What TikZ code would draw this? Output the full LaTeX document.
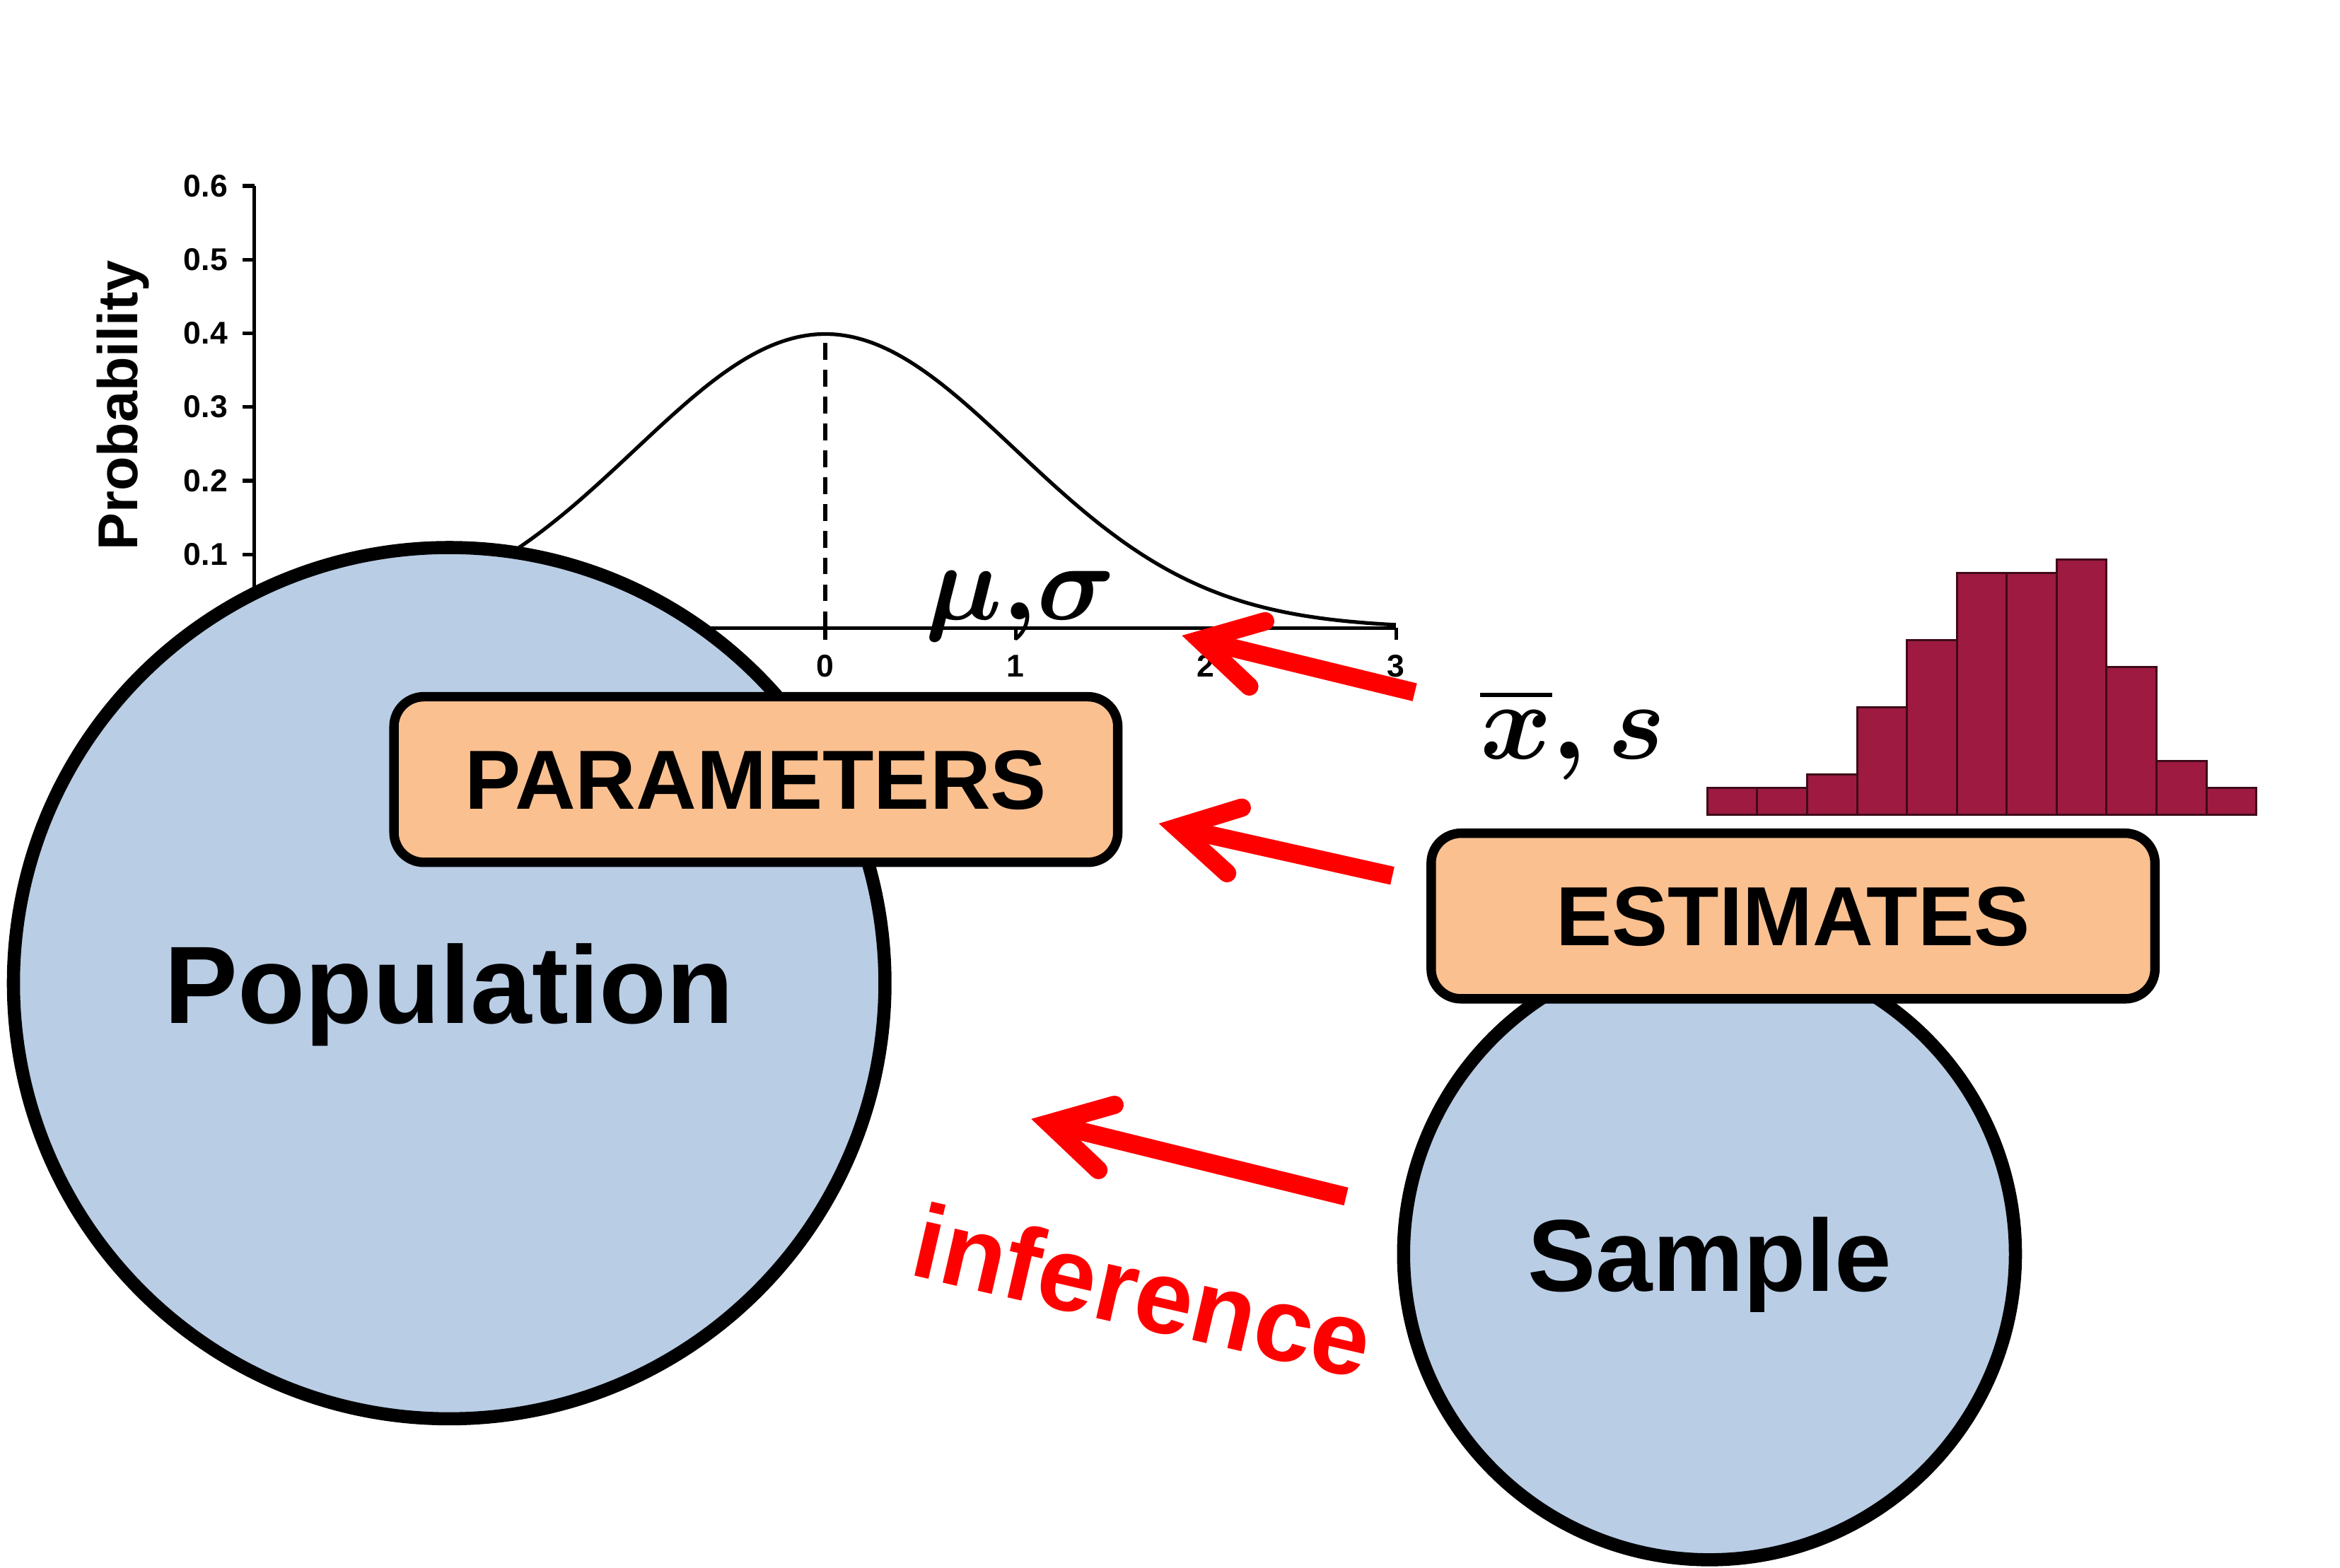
\documentclass[tikz,border=0pt]{standalone}
\usepackage{amsmath}
\usepackage{amssymb}
\usepackage{fontspec}
\setmainfont{Liberation Sans}
\usepackage{tikz}
\usetikzlibrary{
        arrows.meta,
        positioning,
        shapes
    }
\definecolor{popblue}{HTML}{B9CDE5}
\definecolor{tagpeach}{HTML}{FAC090}
\definecolor{barred}{HTML}{9E1A40}
\tikzset{>={Straight Barb[length=3.95mm,width=4.5mm,line cap=round,line join=miter]}}
\tikzset{blob/.style={circle,draw=black,line width=2.5pt,fill=popblue,text depth=0pt,
        font=\bfseries\fontsize{21}{24}\selectfont}}
\tikzset{tag/.style={rectangle,rounded corners=2mm,draw=black,line width=1.8pt,fill=tagpeach,
        minimum width=48.5mm,minimum height=11.1mm,text depth=0pt,font=\bfseries\fontsize{16}{19}\selectfont}}
\tikzset{infer/.style={->,red,line width=3.5pt}}
\tikzset{ticklab/.style={font=\bfseries\fontsize{6}{7}\selectfont,inner sep=2.5pt}}
\tikzset{greek/.style={font=\boldmath\fontsize{21}{25}\selectfont}}

\begin{document}
\begin{tikzpicture}[x=1mm,y=1mm]
                \useasboundingbox (0,0) rectangle (156.8,-105.1);
                % density plot
                \begin{scope}[shift={(55.3,-42.1)},x=12.75mm,y=49.4mm,line width=0.7pt]
                    \draw (-3,0) -- (3,0);
                    \draw (-3,0) -- (-3,0.6);
                    \foreach \t in {-3,-2,-1} \draw (\t,0) -- ++(0,-0.8mm);
                    \foreach \t in {0,1,2,3} \draw (\t,0) -- ++(0,-0.8mm) node[below,ticklab] {\t};
                    \draw (-3,0) -- ++(-0.8mm,0);
                    \foreach \p in {0.1,0.2,0.3,0.4,0.5,0.6} \draw (-3,\p) -- ++(-0.8mm,0) node[left,ticklab] {\p};
                    \draw [dash pattern=on 1.1mm off 0.7mm] (0,0) -- (0,0.3989);
                    \draw [domain=-3:3,samples=121,smooth] plot (\x,{exp(-\x*\x/2)/sqrt(2*pi)});
                    \node [rotate=90,font=\bfseries\fontsize{10.7}{12}\selectfont] (prob) at (-3.69,0.302) {Probability};
                \end{scope}
                \node [greek] (musig) at (68.4,-40.6) {$\mu{,}\sigma$};
                % population side
                \node [blob,minimum size=58.4mm] (pop) at (30.1,-65.9) {Population};
                \node [tag] (params) at (50.65,-52.25) {PARAMETERS};
                % sample side
                \node [blob,minimum size=41mm,font=\bfseries\fontsize{19.5}{23}\selectfont] (samp) at (114.55,-84.05) {Sample};
                \node [tag] (ests) at (120.15,-61.4) {ESTIMATES};
                \node [greek] (xbar) at (105.4,-49.2) {$\overline{x},s$};
                \foreach \h [count=\i from 0] in {2,2,3,8,13,18,18,19,11,4,2}
                    \draw [fill=barred,draw=black!60!barred,line width=0.4pt] (114.4+3.345*\i,-54.6) rectangle ++(3.345,0.9*\h);
                % inference arrows
                \coordinate (xs tail) at (94.8,-46.4);
                \coordinate (ms tip) at (79.2,-42.6);
                \coordinate (est tail) at (93.3,-58.7);
                \coordinate (par tip) at (77.65,-55.2);
                \coordinate (samp tail) at (90.2,-80.2);
                \coordinate (pop tip) at (69.1,-75.0);
                \draw [infer] (xs tail) -- (ms tip);
                \draw [infer] (est tail) -- (par tip);
                \draw [infer] (samp tail) -- (pop tip);
                \node [red,rotate=-13,font=\bfseries\fontsize{20}{24}\selectfont] (inf) at (76.6,-86.5) {inference};
\end{tikzpicture}
\end{document}
